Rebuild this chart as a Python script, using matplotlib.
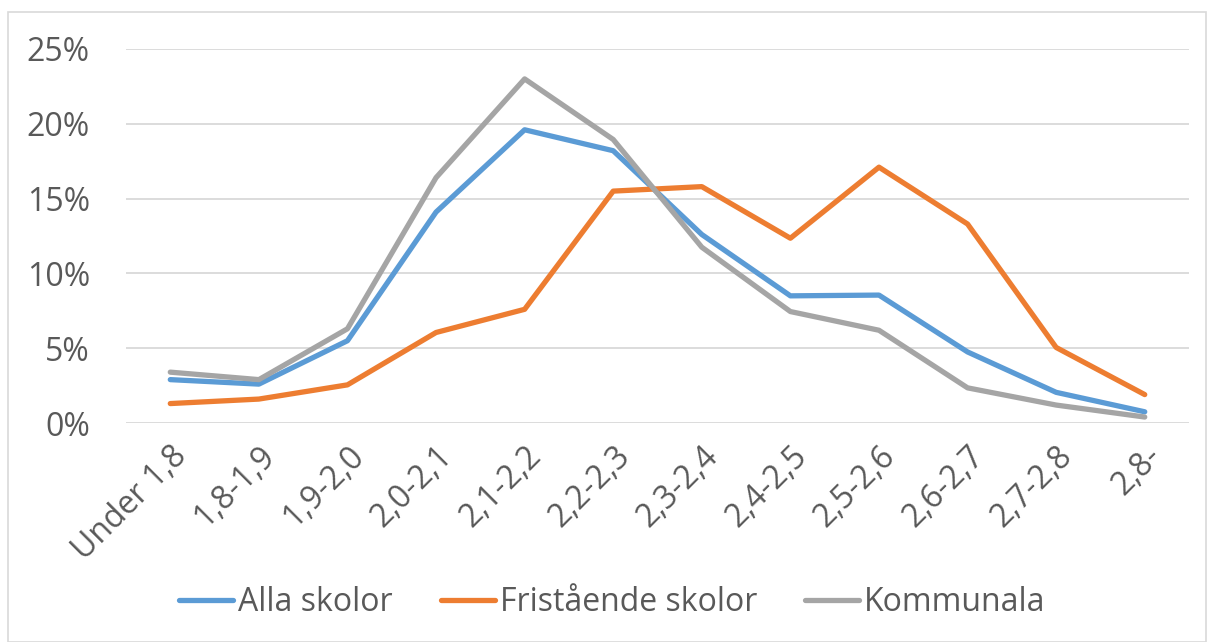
import numpy as np
import matplotlib.pyplot as plt
from matplotlib.patches import Rectangle
from matplotlib.ticker import PercentFormatter

categories = ['Under 1,8', '1,8-1,9', '1,9-2,0', '2,0-2,1', '2,1-2,2', '2,2-2,3',
              '2,3-2,4', '2,4-2,5', '2,5-2,6', '2,6-2,7', '2,7-2,8', '2,8-']
alla = [2.9, 2.6, 5.5, 14.1, 19.6, 18.2, 12.6, 8.5, 8.55, 4.75, 2.05, 0.75]
fristaende = [1.3, 1.6, 2.55, 6.05, 7.6, 15.5, 15.8, 12.35, 17.1, 13.3, 5.05, 1.9]
kommunala = [3.4, 2.9, 6.3, 16.4, 23.0, 18.95, 11.75, 7.45, 6.2, 2.35, 1.2, 0.4]

text_col = '#595959'
plt.rcParams['font.family'] = ['Open Sans', 'DejaVu Sans']

fig = plt.figure(figsize=(12.08, 6.42), dpi=100)
ax = fig.add_axes([0.1043, 0.3411, 0.88, 0.5826])

x = np.arange(len(categories))
lw = 3.8
ax.plot(x, alla, color='#5B9BD5', lw=lw, label='Alla skolor', solid_capstyle='round')
ax.plot(x, fristaende, color='#ED7D31', lw=lw, label='Fristående skolor', solid_capstyle='round')
ax.plot(x, kommunala, color='#A5A5A5', lw=lw, label='Kommunala', solid_capstyle='round')

ax.set_xlim(-0.5, len(categories) - 0.5)
ax.set_ylim(0, 25)
ax.set_yticks(np.arange(0, 26, 5))
ax.yaxis.set_major_formatter(PercentFormatter(decimals=0))
ax.grid(axis='y', color='#D9D9D9', lw=1.3)
ax.set_axisbelow(True)
for s in ax.spines.values():
    s.set_visible(False)
ax.tick_params(axis='both', length=0, colors=text_col, labelsize=23)
ax.tick_params(axis='y', pad=26)
ax.set_xticks(x)
ax.set_xticklabels(categories, rotation=45, ha='right', rotation_mode='anchor')
ax.tick_params(axis='x', pad=12)

leg = fig.legend(loc='center', bbox_to_anchor=(0.507, 0.061), ncol=3, frameon=False,
                 fontsize=23, handlelength=1.7, handletextpad=0.15, columnspacing=1.5)
for t in leg.get_texts():
    t.set_color(text_col)

fig.patches.append(Rectangle((8 / 1208, 0), 1 - 10 / 1208, 1 - 12 / 642,
                             transform=fig.transFigure, fill=False,
                             edgecolor='#D9D9D9', lw=1.2))

fig.savefig('out.png', dpi=100)
